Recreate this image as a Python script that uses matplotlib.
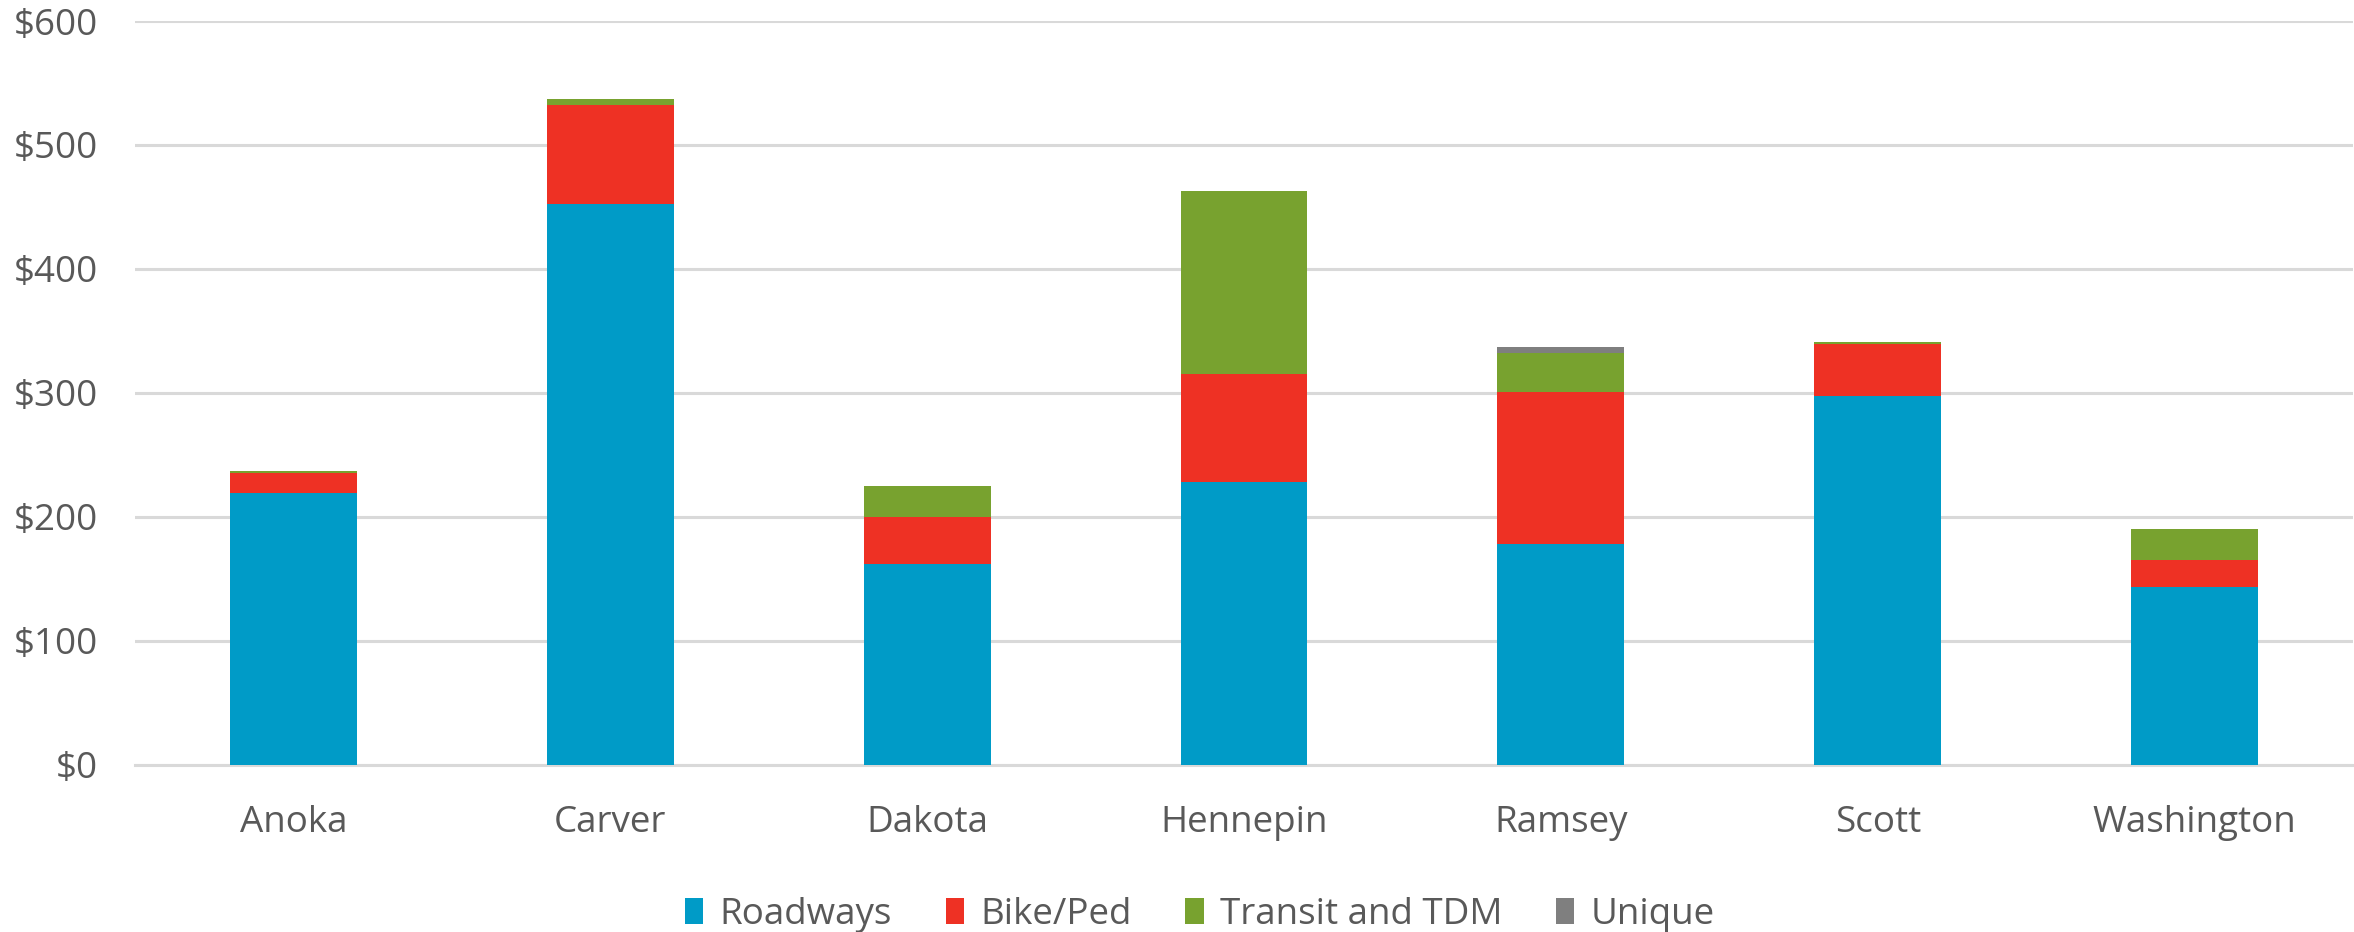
import matplotlib
matplotlib.use("Agg")
import matplotlib.pyplot as plt
import numpy as np

counties = ["Anoka", "Carver", "Dakota", "Hennepin", "Ramsey", "Scott", "Washington"]
roadways = [219, 452, 162, 228, 178, 297, 143]
bike_ped = [16, 80, 38, 87, 123, 42, 22]
transit_tdm = [2, 5, 25, 148, 31, 2, 25]
unique = [0, 0, 0, 0, 5, 0, 0]

series_names = ["Roadways", "Bike/Ped", "Transit and TDM", "Unique"]
colors = ["#009BC7", "#EE3124", "#78A22F", "#7F7F7F"]
yticks = [0, 100, 200, 300, 400, 500, 600]

plt.rcParams['font.family'] = ['Open Sans', 'DejaVu Sans']
text_color = "#595959"

fig = plt.figure(figsize=(23.54, 9.32), dpi=100)
ax = fig.add_axes([135/2354, 1-764.5/932, (2353-135)/2354, (764.5-21)/932])

x = np.arange(len(counties))
bottom = np.zeros(len(counties))
for name, vals, c in zip(series_names, [roadways, bike_ped, transit_tdm, unique], colors):
    v = np.array(vals, dtype=float)
    ax.bar(x, v, width=0.4, bottom=bottom, color=c, label=name, zorder=3)
    bottom += v

ax.set_xlim(-0.5, len(counties) - 0.5)
ax.set_ylim(0, 600)
ax.set_yticks(yticks)
ax.set_yticklabels([f"${t}" for t in yticks])
ax.set_xticks(x)
ax.set_xticklabels(counties)

ax.yaxis.grid(True, color="#D9D9D9", linewidth=2.2, zorder=0)
ax.set_axisbelow(True)
for s in ["top", "right", "left"]:
    ax.spines[s].set_visible(False)
ax.spines["bottom"].set_color("#D9D9D9")
ax.spines["bottom"].set_linewidth(2.2)
ax.tick_params(axis="both", length=0, labelsize=26.5, colors=text_color)
ax.tick_params(axis="y", pad=27)
ax.tick_params(axis="x", pad=29)

handles, labels = ax.get_legend_handles_labels()
leg = fig.legend(handles, labels, loc="center", bbox_to_anchor=(1200/2354, 1-915/932),
                 ncol=4, frameon=False, fontsize=26.5, handlelength=0.5, handleheight=0.7,
                 handletextpad=0.45, columnspacing=1.45)
for t in leg.get_texts():
    t.set_color(text_color)

fig.savefig("out.png", dpi=100, facecolor="white")
